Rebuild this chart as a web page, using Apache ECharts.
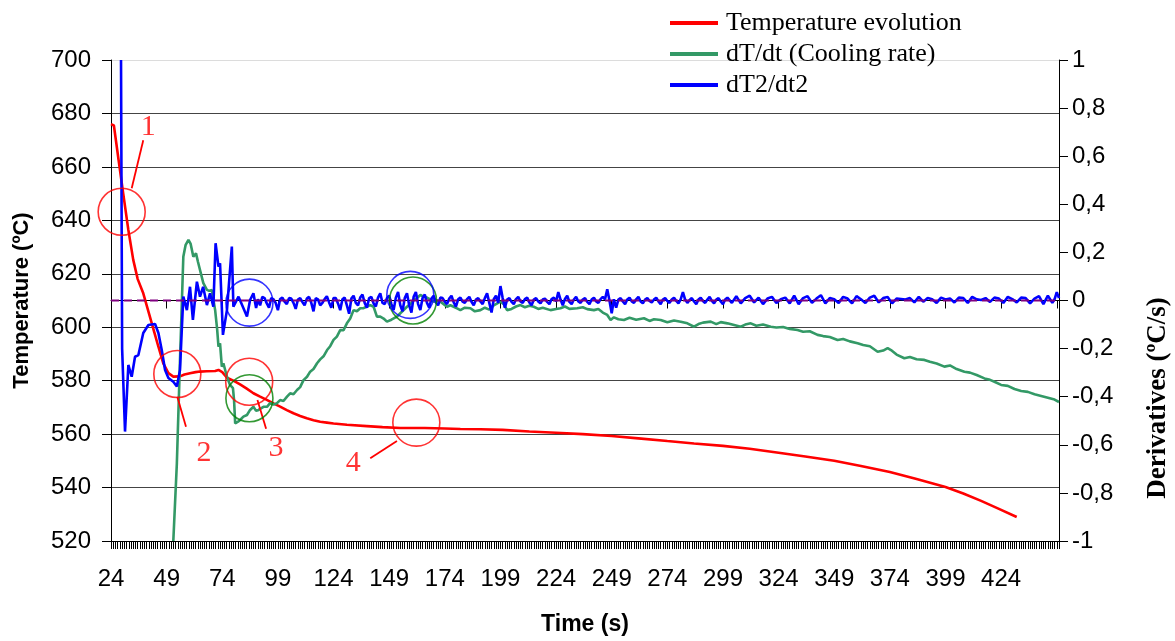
<!DOCTYPE html>
<html><head><meta charset="utf-8">
<script src="https://cdn.jsdelivr.net/npm/echarts/dist/echarts.min.js"></script>
<style>html,body{margin:0;padding:0;background:#fff}#c{width:1175px;height:641px}</style>
</head><body><div id="c"></div>
<script>
const legendNames = ['Temperature evolution', 'dT/dt (Cooling rate)', 'dT2/dt2'];

// Temperature (ºC) vs time (s)
const temperature = [[24,676],[25.3,675.5],[27.5,662],[29.5,650],[31.8,636.4],[34,625.2],[36,618],[38.5,612.7],[41.5,603.9],[43.5,598],[45.3,592.7],[47.5,586.5],[49.8,582.8],[52,581.5],[55,581.6],[57,582.3],[59.5,582.8],[62,583.2],[64,583.4],[67,583.5],[70.8,583.6],[72.3,584],[74,583.2],[76.1,581.1],[79,580],[82,578.6],[85,577],[88,575.3],[91,574],[94,572.8],[97,571.5],[100,570.3],[103,569],[106,567.8],[109,566.8],[112,565.9],[115,565.2],[118,564.6],[121,564.3],[124,564],[130,563.5],[139,563],[146,562.6],[154,562.3],[165,562.3],[174,562.1],[181,561.9],[190,561.8],[200,561.6],[212,561],[224,560.5],[236,560],[249,559.3],[261,558.4],[274,557.4],[286,556.5],[299,555.6],[311,554.5],[324,553],[336,551.6],[349,550],[361,548.1],[374,545.8],[386,543.2],[399,540.2],[407,537.8],[415,535],[423,532],[431,529]];

// dT/dt (ºC/s)
const coolingRate = [[52.0,-1.0],[53.6,-0.676],[55.0,-0.25],[56.5,0.182],[57.5,0.23],[58.8,0.252],[59.8,0.235],[61.0,0.182],[62.2,0.196],[63.1,0.16],[64.0,0.127],[65.5,0.072],[67.1,0.044],[68.1,0.04],[69.3,0.044],[70.8,-0.04],[71.7,-0.12],[72.3,-0.192],[73.0,-0.178],[73.8,-0.275],[74.5,-0.261],[76.1,-0.317],[77.5,-0.351],[78.8,-0.364],[79.3,-0.414],[79.8,-0.511],[81.1,-0.504],[82.0,-0.497],[83.5,-0.483],[85.1,-0.476],[86.5,-0.455],[88.0,-0.442],[89.2,-0.459],[90.3,-0.455],[92.5,-0.442],[94.1,-0.442],[95.5,-0.427],[97,-0.433],[98.6,-0.427],[100.0,-0.414],[101.5,-0.418],[103.1,-0.4],[104.5,-0.386],[106,-0.39],[107.6,-0.372],[109,-0.36],[110.5,-0.331],[112.1,-0.317],[113.5,-0.296],[115,-0.285],[116.6,-0.261],[118,-0.245],[119.5,-0.232],[121.1,-0.206],[122.5,-0.19],[124.0,-0.164],[125.5,-0.15],[127.0,-0.123],[128.5,-0.123],[130,-0.095],[131.5,-0.075],[133.0,-0.04],[134.5,-0.045],[136.0,-0.032],[137.5,-0.032],[139,-0.025],[140.5,-0.019],[142.0,-0.026],[143.5,-0.067],[145.0,-0.067],[146.5,-0.075],[148.0,-0.088],[150,-0.08],[152.5,-0.067],[154.0,-0.053],[155.5,-0.04],[157.0,-0.026],[158.5,-0.015],[160.0,0.002],[161.5,0.01],[163.0,0.023],[164.5,0.016],[166,0.012],[167.5,0.005],[169.0,-0.005],[170.5,0.0],[172.0,-0.005],[173.5,-0.015],[175.0,-0.026],[176.5,-0.02],[178.0,-0.026],[179.5,-0.033],[181.0,-0.04],[183,-0.03],[185.5,-0.032],[187.5,-0.045],[190.0,-0.04],[192,-0.03],[194,-0.038],[196,-0.02],[199.0,-0.005],[200.5,-0.015],[202.0,-0.04],[204,-0.035],[206,-0.025],[208.0,-0.019],[210,-0.028],[212,-0.022],[214.0,-0.026],[216,-0.035],[218,-0.03],[221.5,-0.04],[224,-0.035],[226.0,-0.032],[228,-0.025],[230,-0.035],[233.5,-0.032],[236,-0.028],[238,-0.036],[241.0,-0.04],[243,-0.035],[245,-0.05],[247.0,-0.06],[248.5,-0.081],[250,-0.07],[252,-0.078],[254.5,-0.081],[257,-0.072],[260,-0.08],[263.5,-0.074],[266,-0.085],[268,-0.078],[271.0,-0.081],[274,-0.09],[277,-0.083],[280.0,-0.088],[283,-0.095],[286.0,-0.109],[288,-0.098],[290,-0.092],[293.5,-0.088],[296,-0.098],[298,-0.09],[301.0,-0.095],[304,-0.102],[307.0,-0.109],[309,-0.1],[311.5,-0.095],[314,-0.105],[317,-0.1],[320.5,-0.109],[323,-0.112],[326,-0.11],[329,-0.118],[332.5,-0.123],[335,-0.13],[338,-0.128],[341.5,-0.143],[344,-0.148],[347,-0.152],[350.5,-0.164],[353,-0.16],[356,-0.17],[359.5,-0.178],[362,-0.185],[365,-0.19],[368.5,-0.213],[371,-0.208],[373,-0.198],[374.5,-0.206],[377,-0.225],[380.5,-0.24],[383,-0.235],[386,-0.244],[389.5,-0.247],[392,-0.255],[395,-0.262],[398.5,-0.275],[401,-0.27],[404,-0.285],[407.5,-0.296],[410,-0.3],[413,-0.31],[416.5,-0.324],[419,-0.33],[421,-0.338],[424,-0.351],[427,-0.355],[430,-0.368],[433,-0.376],[436,-0.38],[439,-0.39],[442,-0.397],[445,-0.404],[448,-0.412],[450,-0.422]];

// dT2/dt2
const secondDeriv = [[28.5,1.0],[29.0,-0.2],[30.3,-0.545],[31.8,-0.268],[33.3,-0.317],[34.8,-0.234],[36.3,-0.227],[38.5,-0.135],[40.8,-0.102],[43.8,-0.098],[45.3,-0.135],[46.8,-0.206],[48.3,-0.289],[49.8,-0.322],[52.0,-0.338],[53.6,-0.358],[55.0,-0.289],[55.8,-0.123],[56.5,0.016],[58.1,-0.04],[59.5,0.057],[60.8,-0.081],[62.6,0.078],[64.0,0.016],[65.4,0.057],[67.1,-0.019],[68.5,0.03],[70.0,-0.026],[71.0,0.238],[72.3,0.141],[73.0,0.155],[74.3,-0.143],[76.1,-0.04],[78.3,0.224],[79.0,-0.026],[81.3,0.016],[82.9,-0.019],[85.1,-0.067],[86.5,0.002],[88.0,0.03],[89.2,-0.031],
[90,0.005],[91,-0.02],[92,0.015],[93,0.01],[94,-0.012],[95,-0.03],[96,0.01],[97,0.005],[98,-0.01],[99,-0.04],[100,0.006],[101,0.012],[102,-0.005],[103,-0.015],[104,0.01],[105,0.008],[106,-0.01],[107,-0.035],[108,0.004],[109,0.01],[110,-0.006],[111,-0.02],[112,0.008],[113,0.015],[114,-0.01],[115,-0.045],[116,0.01],[117,0.005],[118,-0.02],[119,-0.01],[120,0.006],[121,0.018],[122,-0.008],[123,-0.03],[124,0.01],[125,0.01],[126,-0.012],[127,-0.04],[128,0.005],[129,0.012],[130,-0.02],[131,-0.055],[132,0.008],[133,0.02],[134,-0.01],[135,-0.02],[136,0.012],[137,0.025],[138,-0.01],[139,-0.03],[140,0.01],[141,0.015],[142,-0.012],[143,-0.025],[144,0.012],[145,0.03],[146,-0.01],[147,-0.015],[148,0.01],[149,0.02],[150,-0.015],
[151,-0.04],[152,0.012],[153,0.035],[154,-0.02],[155,-0.045],[156,0.01],[157,0.03],[158,-0.02],[159,-0.05],[160,0.015],[161,0.035],[162,-0.015],[163,-0.04],[164,0.01],[165,0.025],[166,-0.01],[167,-0.03],[168,0.008],[169,0.02],[170,-0.008],[171,-0.02],[172,0.012],
[173,0.01],[174,-0.005],[175,-0.015],[176,0.008],[177,0.02],[178,-0.008],[179,-0.025],[180,0.005],[181,0.012],[182,-0.005],[183,-0.01],[184,0.006],[185,0.015],[186,-0.005],[187,-0.02],[188,0.004],[189,0.01],[190,-0.004],[191,-0.015],[192,0.01],[193,0.03],[194,-0.01],[195,-0.05],[196,0.005],[197,0.02],[198,-0.01],[199,0.06],[200,0.01],
[201,-0.03],[202,0.004],[203,0.01],[204,-0.006],[205,-0.015],[206,0.006],[207,0.015],[208,-0.004],[209,-0.01],[210,0.006],[211,0.012],[212,-0.008],[213,-0.02],[214,0.004],[215,0.01],[216,-0.004],[217,-0.012],[218,0.004],[219,0.008],[220,-0.006],[221,-0.015],[222,0.006],[223,0.012],[224,-0.004],[225,0.035],[226,0.004],[227,-0.02],[228,0.006],[229,0.02],[230,-0.006],[231,-0.015],[232,0.004],[233,0.015],[234,-0.004],[235,-0.01],[236,0.004],[237,0.01],[238,-0.006],[239,-0.015],[240,0.004],[241,0.012],[242,-0.004],[243,-0.01],[244,0.006],[245,0.015],[246,0.005],[247,0.047],[248,0.0],[249,-0.053],[250,0.005],
[251,-0.03],[252,0.004],[253,0.01],[254,-0.004],[255,-0.015],[256,0.004],[257,0.012],[258,-0.004],[259,-0.01],[260,0.005],[261,0.015],[262,-0.004],[263,-0.012],[264,0.004],[265,0.01],[266,-0.002],[267,-0.008],[268,0.004],[269,0.012],[270,-0.004],[271,-0.015],[272,0.004],[273,0.01],[274,-0.002],[275,-0.01],[276,0.004],[277,0.012],[278,-0.002],[279,-0.012],[280,0.005],[281,0.035],[282,0.004],[283,-0.01],[284,0.002],[285,0.01],[286,-0.004],[287,-0.015],[288,0.004],[289,0.012],[290,-0.002],[291,-0.01],[292,0.004],[293,0.015],[294,-0.002],[295,-0.012],[296,0.004],[297,0.01],[298,-0.004],[299,-0.015],[300,0.004],
[301,0.012],[303,-0.01],[305,0.018],[307,-0.012],[309,0.01],[311,0.02],[313,-0.008],[315,0.012],[317,-0.015],[319,0.008],[321,0.015],[323,-0.01],[325,0.005],[327,0.012],[329,-0.012],[331,0.02],[333,-0.015],[335,0.01],[337,0.018],[339,-0.01],[341,0.008],[343,0.022],[345,-0.012],[347,0.01],[349,0.005],[351,-0.01],[353,0.015],[355,0.008],[357,-0.012],[359,0.018],[361,0.005],[363,-0.01],[365,0.012],[367,0.02],[369,-0.008],[371,0.01],[373,0.015],[375,-0.012],[377,0.008],[379,0.006],[381,0.004],[383,0.01],[385,-0.008],[387,0.015],[389,-0.005],[391,0.01],[393,0.005],[395,-0.01],[397,0.012],[399,0.004],[401,0.008],[403,-0.008],[405,0.012],[407,0.01],[409,-0.01],[411,0.015],[413,0.005],[415,0.002],[417,0.01],[419,-0.006],[421,0.012],[423,0.008],[425,-0.01],[427,0.015],[429,0.006],[431,-0.008],[433,0.012],[435,0.01],[437,-0.012],[439,0.008],[441,0.018],[443,-0.015],[445,0.02],[447,-0.01],[448,0.005],[449,0.035],[450,0.01]];

// zero reference of the derivative axis (dashed)
const zeroLine = [[24,0],[450,0]];

// annotation circles, in (time, temperature) coordinates
const redCircles = [[28.8,643.2],[53.8,582.5],[86.1,579.6],[161.2,564.3]];
const greenCircles = [[86.2,573.4],[159.7,610]];
const blueCircles = [[86.2,609.2],[158.5,612.1]];
const noteLabels = [['1',40.7,675],['2',65.8,552.9],['3',98.2,554.8],['4',132.9,549.2]];
const noteLeaders = [[[33.3,652],[38.5,670]],[[53.8,574],[57.7,562.8]],[[89.8,572.8],[93.7,562]],[[152.5,557.4],[140.5,551]]];
const xLabelLast = 424;

const SANS = 'Liberation Sans';
const SERIF = 'Liberation Serif';

const chart = echarts.init(document.getElementById('c'), null, {renderer: 'canvas'});

function circleSeries(data, color) {
  return {
    type: 'scatter', xAxisIndex: 0, yAxisIndex: 0, data: data,
    symbol: 'circle', symbolSize: 47, silent: true, z: 5,
    itemStyle: {color: 'rgba(0,0,0,0)', borderColor: color, borderWidth: 1.6},
    emphasis: {disabled: true}
  };
}

chart.setOption({
  animation: false,
  backgroundColor: '#fff',
  grid: {left: 111, right: 116, top: 60, bottom: 100, containLabel: false, outerBoundsMode: 'none'},
  legend: {
    data: legendNames, orient: 'vertical', left: 665, top: 5,
    itemWidth: 48, itemHeight: 4, itemGap: 5, icon: 'rect',
    textStyle: {fontFamily: SERIF, fontSize: 26, color: '#000', padding: [0, 0, 0, 3]}
  },
  xAxis: [{
    type: 'value', min: 24, max: 450, interval: 25,
    name: 'Time (s)', nameLocation: 'middle', nameGap: 72,
    nameTextStyle: {fontFamily: SANS, fontWeight: 'bold', fontSize: 23, color: '#000'},
    axisLine: {show: true, lineStyle: {color: '#000', width: 1}},
    axisTick: {show: true, length: 8, lineStyle: {color: '#000'}},
    axisLabel: {fontFamily: SANS, fontSize: 24, color: '#000', margin: 26,
      showMaxLabel: false, formatter: v => (v <= xLabelLast ? String(v) : '')},
    splitLine: {show: false}
  }, {
    type: 'value', min: 24, max: 450, interval: 1, position: 'bottom',
    axisLine: {show: false}, axisLabel: {show: false}, splitLine: {show: false},
    axisTick: {show: true, length: 8, lineStyle: {color: '#000'}}
  }],
  yAxis: [{
    type: 'value', min: 520, max: 700, interval: 20,
    name: 'Temperature (ºC)', nameLocation: 'middle', nameGap: 78, nameRotate: 90,
    nameTextStyle: {fontFamily: SANS, fontWeight: 'bold', fontSize: 22, color: '#000'},
    axisLine: {show: true, lineStyle: {color: '#000', width: 1}},
    axisTick: {show: true, length: 9, lineStyle: {color: '#000'}},
    axisLabel: {fontFamily: SANS, fontSize: 24, color: '#000', margin: 20},
    splitLine: {show: true, lineStyle: {color: ['#000','#444','#444','#444','#444','#444','#444','#444','#444','#dcdcdc'], width: 1.2}}
  }, {
    type: 'value', min: -1, max: 1, interval: 0.2, position: 'right',
    axisLine: {show: true, lineStyle: {color: '#000', width: 1}},
    axisTick: {show: true, length: 9, lineStyle: {color: '#000'}},
    axisLabel: {fontFamily: SANS, fontSize: 24, color: '#000', margin: 13,
      formatter: v => String(Math.round(v * 10) / 10).replace('.', ',')},
    splitLine: {show: false}
  }],
  graphic: [{
    type: 'text', x: 1158, y: 398, rotation: Math.PI / 2,
    style: {text: 'Derivatives (ºC/s)', font: 'bold 27px "Liberation Serif"', fill: '#000',
      textAlign: 'center', textVerticalAlign: 'middle'}
  }],
  series: [{
    name: legendNames[0], type: 'line', xAxisIndex: 0, yAxisIndex: 0, data: temperature,
    showSymbol: false, symbol: 'none', lineStyle: {color: '#ff0000', width: 2.6}, itemStyle: {color: '#ff0000'}, z: 2
  }, {
    name: legendNames[1], type: 'line', xAxisIndex: 0, yAxisIndex: 1, data: coolingRate,
    showSymbol: false, symbol: 'none', lineStyle: {color: '#339966', width: 2.6}, itemStyle: {color: '#339966'}, z: 3
  }, {
    name: legendNames[2], type: 'line', xAxisIndex: 0, yAxisIndex: 1, data: secondDeriv,
    showSymbol: false, symbol: 'none', lineStyle: {color: '#0000ff', width: 2.6}, itemStyle: {color: '#0000ff'}, z: 4
  }, {
    type: 'line', xAxisIndex: 0, yAxisIndex: 1, data: zeroLine, z: 5, silent: true,
    showSymbol: false, symbol: 'none',
    lineStyle: {color: '#800080', type: [8, 5], width: 2}
  },
  circleSeries(redCircles, '#ff0000'),
  circleSeries(greenCircles, '#008000'),
  circleSeries(blueCircles, '#0000ff'),
  {
    type: 'lines', coordinateSystem: 'cartesian2d', xAxisIndex: 0, yAxisIndex: 0, silent: true, z: 5,
    symbol: ['none', 'none'],
    lineStyle: {color: '#ff0000', width: 1.8, opacity: 1},
    data: noteLeaders.map(c => ({coords: c}))
  }, {
    type: 'scatter', xAxisIndex: 0, yAxisIndex: 0, silent: true, z: 6, symbolSize: 1,
    itemStyle: {color: 'rgba(0,0,0,0)'},
    label: {show: true, position: 'inside', formatter: '{b}', fontFamily: SERIF, fontSize: 30, color: '#ff0000'},
    data: noteLabels.map(n => ({name: n[0], value: [n[1], n[2]]}))
  }]
});
</script>
</body></html>
